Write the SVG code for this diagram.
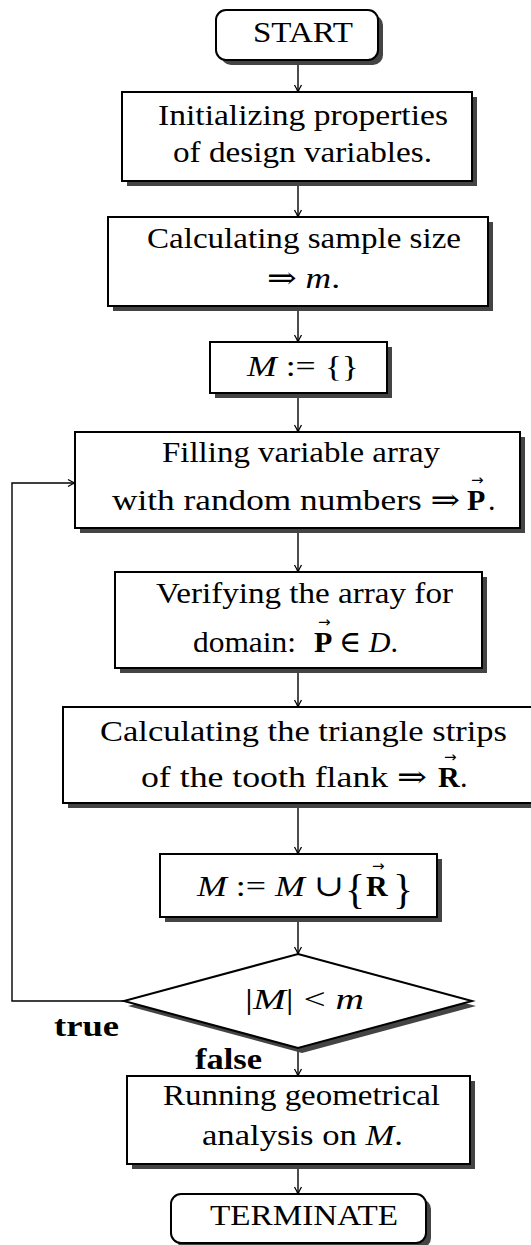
<svg xmlns="http://www.w3.org/2000/svg" width="531" height="1245" viewBox="0 0 531 1245">
<style>
.box{fill:#fff;stroke:#000;stroke-width:2}
.sh{fill:#444}
.t{font-family:'Liberation Serif','Times New Roman','DejaVu Serif',serif;font-size:30px;fill:#000}
.i{font-style:italic}
.b{font-weight:bold}
.acc{font-family:'DejaVu Sans','Liberation Sans',sans-serif;font-size:15px;font-weight:normal;font-style:normal}
.br{font-size:42px}
.c{stroke:#000;stroke-width:1.4;fill:none;marker-end:url(#ah)}
</style>
<defs>
<marker id="ah" viewBox="-9 -5 10 10" refX="0" refY="0" markerWidth="10" markerHeight="10" markerUnits="userSpaceOnUse" orient="auto">
<path d="M-7,-3.5 Q-2.5,-0.8 0,0 Q-2.5,0.8 -7,3.5" fill="none" stroke="#000" stroke-width="1.3"/>
</marker>
</defs>
<rect width="531" height="1245" fill="#fff"/>

<g id="connectors">
<line class="c" x1="298" y1="60" x2="298" y2="92"/>
<line class="c" x1="298" y1="181" x2="298" y2="217"/>
<line class="c" x1="298" y1="306" x2="298" y2="342"/>
<line class="c" x1="298" y1="393" x2="298" y2="432"/>
<line class="c" x1="298" y1="528" x2="298" y2="572"/>
<line class="c" x1="298" y1="668" x2="298" y2="707"/>
<line class="c" x1="298" y1="803" x2="298" y2="854"/>
<line class="c" x1="298" y1="917" x2="298" y2="954"/>
<line class="c" x1="298" y1="1048" x2="298" y2="1076"/>
<line class="c" x1="298" y1="1164" x2="298" y2="1194"/>
<polyline class="c" points="124,1001 12,1001 12,483 75,483"/>
</g>

<g id="start">
<rect class="sh" x="221" y="15" width="162" height="50" rx="10"/>
<rect class="box" x="216" y="10" width="162" height="50" rx="10"/>
<text class="t" font-family="Liberation Serif" x="253" y="42" textLength="100" lengthAdjust="spacingAndGlyphs">START</text>
</g>

<g id="init">
<rect class="sh" x="127" y="97" width="350" height="89"/>
<rect class="box" x="122" y="92" width="350" height="89"/>
<text class="t" x="158" y="125" textLength="290" lengthAdjust="spacingAndGlyphs">Initializing properties</text>
<text class="t" x="173" y="162" textLength="259" lengthAdjust="spacingAndGlyphs">of design variables.</text>
</g>

<g id="sample">
<rect class="sh" x="113" y="222" width="380" height="89"/>
<rect class="box" x="108" y="217" width="380" height="89"/>
<text class="t" x="147" y="248" textLength="314" lengthAdjust="spacingAndGlyphs">Calculating sample size</text>
<text class="t" x="267" y="288" textLength="73" lengthAdjust="spacingAndGlyphs">⇒ <tspan class="i">m</tspan>.</text>
</g>

<g id="init-m">
<rect class="sh" x="215" y="347" width="177" height="51"/>
<rect class="box" x="210" y="342" width="177" height="51"/>
<text class="t" x="247" y="376" textLength="112" lengthAdjust="spacingAndGlyphs"><tspan class="i">M</tspan> := {}</text>
</g>

<g id="fill">
<rect class="sh" x="80" y="437" width="445" height="96"/>
<rect class="box" x="75" y="432" width="445" height="96"/>
<text class="t" x="162" y="462" textLength="278" lengthAdjust="spacingAndGlyphs">Filling variable array</text>
<text class="t" x="112" y="510" textLength="348" lengthAdjust="spacingAndGlyphs">with random numbers ⇒</text>
<text class="t" x="467" y="510"><tspan class="b">P</tspan><tspan class="acc" x="471" y="485">→</tspan><tspan x="488" y="510">.</tspan></text>
</g>

<g id="verify">
<rect class="sh" x="120" y="577" width="367" height="96"/>
<rect class="box" x="115" y="572" width="367" height="96"/>
<text class="t" x="156" y="603" textLength="297" lengthAdjust="spacingAndGlyphs">Verifying the array for</text>
<text class="t" x="193" y="652" textLength="103" lengthAdjust="spacingAndGlyphs">domain:</text>
<text class="t" x="314" y="652"><tspan class="b">P</tspan><tspan class="acc" x="318" y="627">→</tspan><tspan x="339" y="652">∈ </tspan><tspan class="i">D</tspan>.</text>
</g>

<g id="strips">
<rect class="sh" x="68" y="712" width="470" height="96"/>
<rect class="box" x="63" y="707" width="470" height="96"/>
<text class="t" x="100" y="741" textLength="407" lengthAdjust="spacingAndGlyphs">Calculating the triangle strips</text>
<text class="t" x="141" y="787" textLength="286" lengthAdjust="spacingAndGlyphs">of the tooth flank ⇒</text>
<text class="t" x="438" y="787"><tspan class="b">R</tspan><tspan class="acc" x="444" y="762">→</tspan><tspan x="460" y="787">.</tspan></text>
</g>

<g id="union">
<rect class="sh" x="165" y="859" width="277" height="63"/>
<rect class="box" x="160" y="854" width="277" height="63"/>
<text class="t" x="197" y="896" textLength="147" lengthAdjust="spacingAndGlyphs"><tspan class="i">M</tspan> := <tspan class="i">M</tspan> ∪</text>
<text class="t" x="345" y="903"><tspan class="br">{</tspan><tspan class="b" x="366" y="896">R</tspan><tspan class="acc" x="372" y="871">→</tspan><tspan class="br" x="393" y="903">}</tspan></text>
</g>

<g id="decision">
<polygon class="sh" points="302,960 476,1006 302,1053 128,1006"/>
<polygon class="box" points="298,954 472,1001 298,1048 124,1001"/>
<text class="t" x="245" y="1009" textLength="119" lengthAdjust="spacingAndGlyphs">|<tspan class="i">M</tspan>| &lt; <tspan class="i">m</tspan></text>
</g>

<g id="labels">
<text class="t b" x="54" y="1036" textLength="65" lengthAdjust="spacingAndGlyphs">true</text>
<text class="t b" x="195" y="1069" textLength="67" lengthAdjust="spacingAndGlyphs">false</text>
</g>

<g id="analysis">
<rect class="sh" x="132" y="1081" width="343" height="88"/>
<rect class="box" x="127" y="1076" width="343" height="88"/>
<text class="t" x="163" y="1105" textLength="277" lengthAdjust="spacingAndGlyphs">Running geometrical</text>
<text class="t" x="202" y="1145" textLength="201" lengthAdjust="spacingAndGlyphs">analysis on <tspan class="i">M</tspan>.</text>
</g>

<g id="terminate">
<rect class="sh" x="176" y="1199" width="255" height="49" rx="10"/>
<rect class="box" x="171" y="1194" width="255" height="49" rx="10"/>
<text class="t" x="210" y="1225" textLength="188" lengthAdjust="spacingAndGlyphs">TERMINATE</text>
</g>
</svg>
